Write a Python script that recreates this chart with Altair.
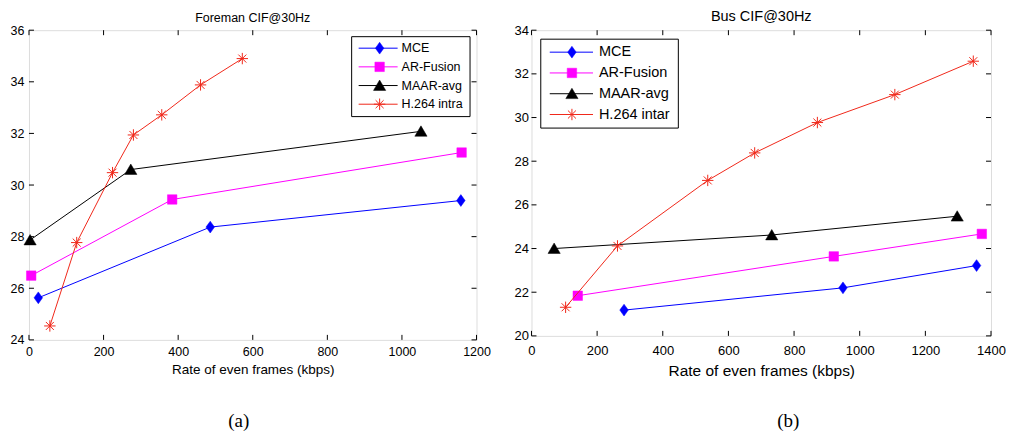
import altair as alt
import pandas as pd

# ---------------- data ----------------
names_a = ["MCE", "AR-Fusion", "MAAR-avg", "H.264 intra"]
names_b = ["MCE", "AR-Fusion", "MAAR-avg", "H.264 intar"]

# (a) Foreman CIF@30Hz
fm_mce_x = [25, 486, 1158]
fm_mce_y = [25.63, 28.37, 29.40]
fm_ar_x = [6, 384, 1160]
fm_ar_y = [26.49, 29.44, 31.26]
fm_maar_x = [3, 273, 1051]
fm_maar_y = [27.87, 30.60, 32.08]
fm_h264_x = [56, 128, 224, 280, 356, 460, 572]
fm_h264_y = [24.54, 27.77, 30.48, 31.94, 32.72, 33.88, 34.90]

# (b) Bus CIF@30Hz
bus_mce_x = [282, 949, 1356]
bus_mce_y = [21.18, 22.20, 23.22]
bus_ar_x = [141, 921, 1372]
bus_ar_y = [21.84, 23.64, 24.67]
bus_maar_x = [69, 732, 1297]
bus_maar_y = [24.00, 24.62, 25.48]
bus_h264_x = [104, 262, 537, 680, 871, 1107, 1346]
bus_h264_y = [21.31, 24.12, 27.12, 28.38, 29.77, 31.05, 32.58]

xticks_a = [0, 200, 400, 600, 800, 1000, 1200]
yticks_a = [24, 26, 28, 30, 32, 34, 36]
xticks_b = [0, 200, 400, 600, 800, 1000, 1200, 1400]
yticks_b = [20, 22, 24, 26, 28, 30, 32, 34]

x_title = "Rate of even frames (kbps)"

# ---------------- styles ----------------
FONT = "Liberation Sans"
BLUE, MAG, BLK, RED = "#0000FF", "#FF00FF", "#000000", "#F0281A"
DIAMOND = "M0,-1L0.72,0L0,1L-0.72,0Z"
SQUARE = "M-1,-1L1,-1L1,1L-1,1Z"
TRIANGLE = "M0,-0.9L1,0.8L-1,0.8Z"
STAR = "M-1,0H1M0,-1V1M-0.7,-0.7L0.7,0.7M-0.7,0.7L0.7,-0.7"

styles = [
    dict(color=BLUE, shape=DIAMOND, size=140, filled=True),
    dict(color=MAG, shape=SQUARE, size=90, filled=True),
    dict(color=BLK, shape=TRIANGLE, size=150, filled=True),
    dict(color=RED, shape=STAR, size=130, filled=False),
]

dummy = pd.DataFrame({"a": [0]})
TICK_PX = 5


def point_mark(data, st):
    if st["filled"]:
        return alt.Chart(data).mark_point(shape=st["shape"], size=st["size"], filled=True,
                                          fill=st["color"], stroke=st["color"], strokeWidth=0.5,
                                          opacity=1)
    return alt.Chart(data).mark_point(shape=st["shape"], size=st["size"], filled=False,
                                      stroke=st["color"], strokeWidth=1, opacity=1)


def panel(series, names, xdom, ydom, xticks, yticks, W, H, title, fs, L, caption):
    tick_fs, title_fs, xtitle_fs, leg_fs = fs
    xaxis = alt.Axis(values=xticks, format="d", title=x_title, grid=False, ticks=False, domain=False,
                     labelFont=FONT, labelFontSize=tick_fs, labelColor="#000",
                     labelPadding=L["xlabpad"], labelFlush=False, labelOverlap=False,
                     titleFont=FONT, titleFontSize=xtitle_fs, titleFontWeight="normal",
                     titleColor="#000", titlePadding=L["xtitpad"])
    yaxis = alt.Axis(values=yticks, format="d", title=None, grid=False, ticks=False, domain=False,
                     labelFont=FONT, labelFontSize=tick_fs, labelColor="#000",
                     labelPadding=L["ylabpad"], labelFlush=False, labelOverlap=False)
    xs = alt.Scale(domain=xdom, nice=False, zero=False)
    ys = alt.Scale(domain=ydom, nice=False, zero=False)

    def X(f):
        return alt.X(f, type="quantitative", scale=xs, axis=xaxis)

    def Y(f):
        return alt.Y(f, type="quantitative", scale=ys, axis=yaxis)

    layers = []
    # series: line + markers
    for (xv, yv), st in zip(series, styles):
        df = pd.DataFrame({"x": xv, "y": yv})
        layers.append(alt.Chart(df).mark_line(color=st["color"], strokeWidth=1).encode(
            x=X("x"), y=Y("y")))
        layers.append(point_mark(df, st).encode(x=X("x"), y=Y("y")))

    # legend (MATLAB-style boxed legend inside the axes)
    layers.append(alt.Chart(dummy).mark_rect(fill="white", stroke="#000", strokeWidth=1).encode(
        x=alt.value(L["bx0"]), x2=alt.value(L["bx1"]), y=alt.value(L["by0"]), y2=alt.value(L["by1"])))
    for i, (nm, st) in enumerate(zip(names, styles)):
        yy = L["y0"] + i * L["dy"]
        layers.append(alt.Chart(dummy).mark_rule(color=st["color"], strokeWidth=1).encode(
            x=alt.value(L["lx0"]), x2=alt.value(L["lx1"]), y=alt.value(yy)))
        layers.append(point_mark(dummy, st).encode(x=alt.value(L["lxm"]), y=alt.value(yy)))
        layers.append(alt.Chart(dummy).mark_text(align="left", baseline="middle", font=FONT,
                                                 fontSize=leg_fs, color="#000").encode(
            x=alt.value(L["tx"]), y=alt.value(yy), text=alt.value(nm)))

    # inward ticks on all four sides of the box
    ydf = pd.DataFrame({"v": yticks})
    xdf = pd.DataFrame({"v": xticks})
    rk = dict(color="#000", strokeWidth=1, opacity=1)
    layers.append(alt.Chart(ydf).mark_rule(**rk).encode(
        y=Y("v"), x=alt.value(0), x2=alt.value(TICK_PX)))
    layers.append(alt.Chart(ydf).mark_rule(**rk).encode(
        y=Y("v"), x=alt.value(W - TICK_PX), x2=alt.value(W)))
    layers.append(alt.Chart(xdf).mark_rule(**rk).encode(
        x=X("v"), y=alt.value(H - TICK_PX), y2=alt.value(H)))
    layers.append(alt.Chart(xdf).mark_rule(**rk).encode(
        x=X("v"), y=alt.value(0), y2=alt.value(TICK_PX)))

    # caption
    layers.append(alt.Chart(dummy).mark_text(align="center", baseline="middle",
                                             font="Liberation Serif", fontSize=19,
                                             color="#000").encode(
        x=alt.value(caption[1]), y=alt.value(caption[2]), text=alt.value(caption[0])))

    return alt.layer(*layers).properties(
        width=W, height=H,
        title=alt.TitleParams(title, font=FONT, fontSize=title_fs, fontWeight="normal",
                              color="#000", offset=L["toff"], anchor="middle"),
    )


left = panel(
    [(fm_mce_x, fm_mce_y), (fm_ar_x, fm_ar_y), (fm_maar_x, fm_maar_y), (fm_h264_x, fm_h264_y)],
    names_a, [0, 1200], [24, 36], xticks_a, yticks_a, 448, 310,
    "Foreman CIF@30Hz", (12.5, 12.5, 13.5, 12.5),
    dict(bx0=323, bx1=441.5, by0=6.5, by1=86.5, y0=18, dy=18.7, lx0=330, lx1=369, lxm=351,
         tx=373, xlabpad=6, xtitpad=4, ylabpad=5, toff=0),
    ("(a)", 210, 391),
)

right = panel(
    [(bus_mce_x, bus_mce_y), (bus_ar_x, bus_ar_y), (bus_maar_x, bus_maar_y), (bus_h264_x, bus_h264_y)],
    names_b, [0, 1400], [20, 34], xticks_b, yticks_b, 460, 306,
    "Bus CIF@30Hz", (13, 14.5, 15.5, 14.5),
    dict(bx0=9.3, bx1=147, by0=9, by1=98, y0=22, dy=20.8, lx0=18.3, lx1=61.6, lxm=40.5,
         tx=67.5, xlabpad=9, xtitpad=6, ylabpad=3, toff=0),
    ("(b)", 257, 391),
)

chart = alt.hconcat(left, right, spacing=55, bounds="flush").properties(
    padding={"left": 1, "top": 0, "right": 0, "bottom": 0}
).configure_view(stroke="#000", strokeWidth=1).configure(background="white")

chart.save("out.html", embed_options={"renderer": "svg", "actions": False})
